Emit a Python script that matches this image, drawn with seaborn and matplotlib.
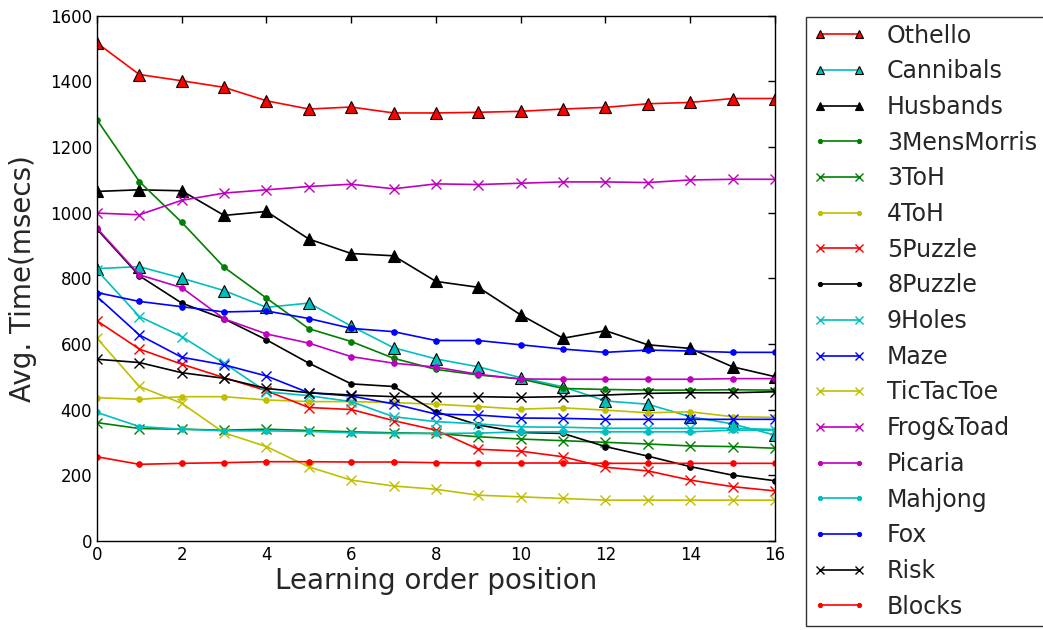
import matplotlib
matplotlib.use("Agg")
import matplotlib.pyplot as plt
import seaborn as sns
import pandas as pd

positions = list(range(17))

othello = [1517, 1421, 1402, 1382, 1341, 1316, 1322, 1304, 1304, 1306, 1309, 1316, 1321, 1332, 1336, 1348, 1348]
cannibals = [830, 836, 801, 763, 712, 725, 655, 589, 555, 531, 498, 470, 427, 417, 379, 357, 323]
husbands = [1065, 1070, 1067, 992, 1004, 920, 876, 869, 791, 773, 689, 618, 641, 598, 587, 531, 501]
mens_morris = [1283, 1095, 971, 834, 740, 647, 608, 557, 523, 506, 494, 465, 462, 460, 460, 461, 460]
toh3 = [361, 343, 341, 338, 341, 337, 333, 330, 328, 318, 311, 306, 301, 296, 290, 288, 283]
toh4 = [437, 432, 440, 440, 430, 425, 425, 422, 417, 410, 402, 406, 399, 391, 394, 379, 377]
puzzle5 = [671, 585, 539, 498, 458, 407, 401, 367, 338, 280, 274, 257, 225, 214, 186, 166, 153]
puzzle8 = [950, 808, 725, 677, 613, 542, 479, 471, 394, 354, 331, 328, 288, 259, 227, 201, 184]
holes9 = [825, 684, 623, 542, 455, 443, 425, 379, 364, 357, 348, 347, 344, 344, 344, 344, 340]
maze = [745, 628, 560, 537, 503, 452, 442, 418, 387, 384, 375, 374, 371, 371, 371, 371, 371]
tictactoe = [618, 471, 420, 330, 288, 226, 186, 168, 158, 140, 135, 130, 125, 125, 125, 125, 125]
frog_toad = [999, 994, 1038, 1060, 1070, 1080, 1087, 1073, 1088, 1086, 1090, 1094, 1094, 1092, 1100, 1102, 1102]
picaria = [953, 811, 772, 677, 631, 603, 562, 542, 530, 508, 494, 493, 493, 493, 493, 495, 495]
mahjong = [392, 349, 341, 336, 336, 334, 330, 328, 328, 329, 333, 333, 333, 333, 333, 338, 338]
fox = [757, 730, 714, 698, 701, 678, 648, 638, 611, 611, 598, 585, 575, 582, 579, 575, 575]
risk = [554, 544, 513, 496, 465, 452, 445, 440, 440, 440, 438, 440, 445, 450, 452, 452, 455]
blocks = [257, 234, 237, 239, 242, 242, 241, 241, 239, 238, 238, 238, 237, 237, 237, 237, 237]

games = ["Othello", "Cannibals", "Husbands", "3MensMorris", "3ToH", "4ToH", "5Puzzle",
         "8Puzzle", "9Holes", "Maze", "TicTacToe", "Frog&Toad", "Picaria", "Mahjong",
         "Fox", "Risk", "Blocks"]
series = [othello, cannibals, husbands, mens_morris, toh3, toh4, puzzle5, puzzle8,
          holes9, maze, tictactoe, frog_toad, picaria, mahjong, fox, risk, blocks]

R, C, K, G = (1, 0, 0), (0, 0.75, 0.75), (0, 0, 0), (0, 0.5, 0)
Y, M, B = (0.75, 0.75, 0), (0.75, 0, 0.75), (0, 0, 1)
colors = [R, C, K, G, G, Y, R, K, C, B, Y, M, M, C, B, K, R]
markers = ["^", "^", "^", ".", "x", ".", "x", ".", "x", "x", "x", "x", ".", ".", ".", "x", "."]

sns.set_style("white")
plt.rcParams.update({
    "font.family": ["DejaVu Sans"],
    "xtick.direction": "in",
    "ytick.direction": "in",
    "xtick.top": True,
    "ytick.right": True,
    "xtick.major.size": 5,
    "ytick.major.size": 5,
    "axes.edgecolor": "black",
    "axes.linewidth": 1.0,
})

fig = plt.figure(figsize=(10.43, 6.30), dpi=100)
ax = fig.add_axes([0.093, 0.141, 0.650, 0.834])

for name, vals, col, mk in zip(games, series, colors, markers):
    df = pd.DataFrame({"pos": positions, "time": vals})
    kw = dict(marker=mk, color=col, linewidth=1.2, label=name, ax=ax)
    if mk == "^":
        kw.update(markersize=8, markeredgecolor="black", markeredgewidth=0.8,
                  markerfacecolor=col)
    elif mk == "x":
        kw.update(markersize=7, markeredgewidth=1.0, markeredgecolor=col)
    else:
        kw.update(markersize=8, markeredgecolor=col)
    sns.lineplot(data=df, x="pos", y="time", **kw)

ax.set_xlim(0, 16)
ax.set_ylim(0, 1600)
ax.set_xticks(range(0, 17, 2))
ax.set_yticks(range(0, 1601, 200))
ax.tick_params(labelsize=12, colors="black", width=1)
ax.set_xlabel("Learning order position", fontsize=20, labelpad=2)
ax.set_ylabel("Avg. Time(msecs)", fontsize=20, labelpad=9)

leg = ax.legend(loc="upper left", bbox_to_anchor=(1.0457, 0.9985), numpoints=2,
                fontsize=17, frameon=True, fancybox=False, labelspacing=0.495,
                handlelength=2.25, handletextpad=0.88, borderpad=0.3,
                borderaxespad=0.0, markerscale=0.75)
leg.get_frame().set_edgecolor("black")
leg.get_frame().set_linewidth(1.0)

fig.savefig("out.png", dpi=100, facecolor="white")
